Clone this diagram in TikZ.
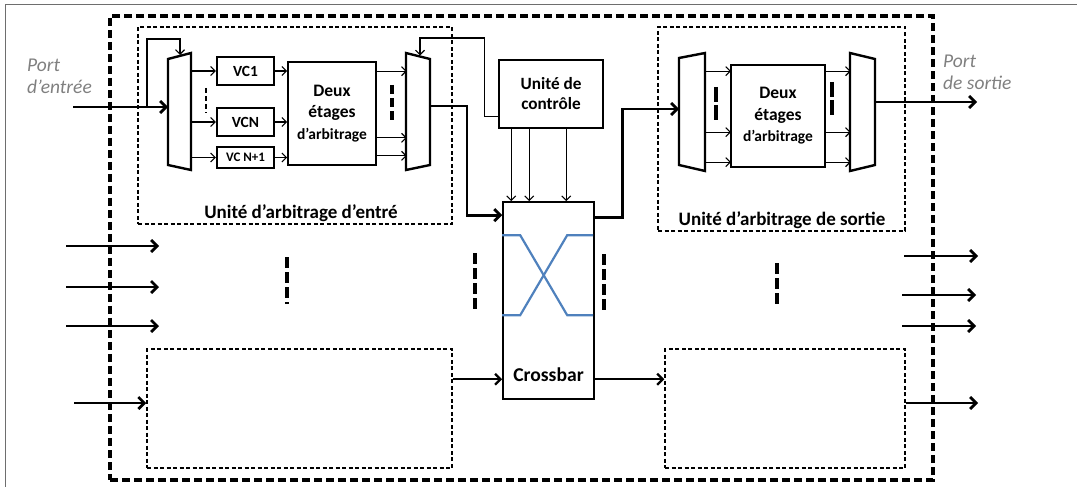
\documentclass[tikz,border=0pt]{standalone}
\usepackage{fontspec}
\setmainfont{Carlito}
\usetikzlibrary{arrows.meta,calc}
\definecolor{portgray}{RGB}{128,128,128}
\definecolor{xblue}{RGB}{79,129,189}
\definecolor{framegray}{RGB}{110,110,110}
\begin{document}
\begin{tikzpicture}[x=1pt,y=-1pt,
  bx/.style={draw, line width=1.6pt, inner sep=0pt, align=center},
  vcb/.style={draw, line width=2.2pt, inner sep=0pt, font=\bfseries\fontsize{15.5}{17}\selectfont},
  unitbox/.style={draw, line width=1.5pt, dash pattern=on 4pt off 2.5pt, inner sep=0pt},
  bigbox/.style={draw, line width=3.2pt, dash pattern=on 8pt off 4pt, inner sep=0pt},
  muxn/.style={inner sep=0pt, outer sep=0pt},
  muxline/.style={line width=2.4pt, line join=miter},
  thk/.style={line width=2.8pt, -{Straight Barb[length=6pt,width=12pt]}},
  med/.style={line width=2.3pt, -{Straight Barb[length=5.5pt,width=11pt]}},
  thn/.style={line width=1.1pt, -{Straight Barb[length=4.5pt,width=9pt]}},
  tick/.style={line width=3.6pt, dash pattern=on 11pt off 4pt},
  tickb/.style={line width=3.6pt, dash pattern=on 9pt off 4pt},
  tickc/.style={line width=3.6pt, dash pattern=on 15pt off 3pt},
  porttxt/.style={text=portgray, font=\itshape\fontsize{19.5}{22}\selectfont, anchor=base west, inner sep=0pt},
  ttl/.style={font=\bfseries\fontsize{19}{21}\selectfont, inner sep=0pt},
  xline/.style={draw=xblue, line width=2.2pt}
]
\useasboundingbox (0,0) rectangle (1077,487);
% outer frame
\draw[framegray, line width=1pt] (5,487) -- (5,5) -- (1077,5);

% big dashed router box
\node[bigbox, minimum width=823pt, minimum height=464pt] (router) at (521.5,248) {};

% units
\node[unitbox, minimum width=314pt, minimum height=197pt] (inunit) at (295,125.5) {};
\node[unitbox, minimum width=247pt, minimum height=204pt] (outunit) at (781.5,129) {};
\node[unitbox, minimum width=305pt, minimum height=119pt] (lowL) at (299.5,408.5) {};
\node[unitbox, minimum width=240pt, minimum height=119pt] (lowR) at (785,408.5) {};

\node[ttl] (inttl) at (301,213) {Unité d’arbitrage d’entré};
\node[ttl] (outttl) at (782,220) {Unité d’arbitrage de sortie};

% control and crossbar
\node[bx, minimum width=104pt, minimum height=68pt, font=\bfseries\fontsize{17.2}{20}\selectfont] (ctrl) at (551,94) {Unité de\\contrôle};
\node[bx, minimum width=91pt, minimum height=197pt] (xbar) at (548.5,300.5) {};
\node[ttl, font=\bfseries\fontsize{19.6}{21}\selectfont] (xbtxt) at (548.5,375) {Crossbar};

% muxes
\node[muxn, minimum width=23pt, minimum height=117pt] (m1) at (179.5,111.5) {};
\node[muxn, minimum width=24pt, minimum height=117pt] (m2) at (418,111.5) {};
\node[muxn, minimum width=26pt, minimum height=118pt] (m3) at (692,112) {};
\node[muxn, minimum width=25pt, minimum height=118pt] (m4) at (862.5,112) {};
\draw[muxline] ($(m1.north west)+(0,6)$) -- (m1.north east) -- (m1.south east) -- ($(m1.south west)+(0,-5)$) -- cycle;
\draw[muxline] (m2.north west) -- ($(m2.north east)+(0,6)$) -- ($(m2.south east)+(0,-5)$) -- (m2.south west) -- cycle;
\draw[muxline] ($(m3.north west)+(0,5)$) -- (m3.north east) -- (m3.south east) -- ($(m3.south west)+(0,-6)$) -- cycle;
\draw[muxline] (m4.north west) -- ($(m4.north east)+(0,6)$) -- ($(m4.south east)+(0,-6)$) -- (m4.south west) -- cycle;

% VC buffers
\node[vcb, minimum width=57pt, minimum height=28pt] (vc1) at (245.5,71) {VC1};
\node[vcb, minimum width=57pt, minimum height=28pt] (vcn) at (245.5,122) {VCN};
\node[vcb, minimum width=57pt, minimum height=21pt, font=\bfseries\fontsize{13}{15}\selectfont] (vcn1) at (245.5,157.5) {VC N+1};

% arbitration stages
\node[bx, minimum width=88pt, minimum height=103pt, font=\bfseries\fontsize{17.5}{21.5}\selectfont] (d1) at (332,113.5)
  {Deux\\étages\\{\fontsize{15.5}{20}\selectfont d’arbitrage}};
\node[bx, minimum width=94pt, minimum height=102pt, font=\bfseries\fontsize{17.5}{21.5}\selectfont] (d2) at (778,116)
  {Deux\\étages\\{\fontsize{15.5}{20}\selectfont d’arbitrage}};

% port labels
\node[porttxt] (pe1) at (27,72) {Port};
\node[porttxt] (pe2) at (27,94) {d’entrée};
\node[porttxt] (ps1) at (943,67) {Port};
\node[porttxt] (ps2) at (943,89) {de sortie};

% input port
\coordinate (pin) at (73,107);
\coordinate (fb1) at (147,39);
\draw[thk] (pin) -- (pin -| m1.west);
\draw[thn] (pin -| fb1) -- (fb1) -| ($(m1.north)+(0.5,2)$);

% mux1 -> VCs
\draw[thn] (m1.east |- vc1.west) -- (vc1.west);
\draw[thn] (m1.east |- vcn.west) -- (vcn.west);
\draw[thn] (m1.east |- vcn1.west) -- (vcn1.west);
\draw[line width=1.6pt, dash pattern=on 5pt off 3pt] (206,88) -- (206,113);

% VCs -> arbitration
\draw[thn] (vc1.east) -- (vc1.east -| d1.west);
\draw[thn] (vcn.east) -- (vcn.east -| d1.west);
\draw[thn] (vcn1.east) -- (vcn1.east -| d1.west);

% arbitration -> mux2
\draw[thn] ($(d1.north east)+(0,10)$) -- ++(30,0);
\draw[thn] ($(d1.south east)+(0,-28)$) -- ++(30,0);
\draw[thn] ($(d1.south east)+(0,-10)$) -- ++(30,0);
\draw[tickb] (392,85) -- (392,120);

% mux2 -> crossbar
\draw[thk] ($(m2.east)+(0,-5.5)$) -- ++(37,0) |- ($(xbar.north west)+(0,14)$);

% control feedback to mux2
\draw[thn] ($(ctrl.south west)+(0,-12)$) -- ++(-14,0) |- ($(m2.north)+(2,-15)$) -- ($(m2.north)+(2,2.5)$);

% control -> crossbar
\foreach \d/\n in {13/a,31/b,68/c}{
  \draw[thn] ($(ctrl.south west)+(\d,0)$) coordinate (ct\n) -- (ct\n |- xbar.north);
}

% crossbar X
\begin{scope}[shift={(xbar.north west)}]
\draw[xline] (0,34) -- (18,34) -- (65,114) -- (91,114);
\draw[xline] (0,114) -- (18,114) -- (65,34) -- (91,34);
\end{scope}

% crossbar -> output unit
\draw[thk] ($(xbar.north east)+(0,16)$) -- ++(28,0) |- ($(m3.west)+(0,-3)$);

% mux3 -> arbitration 2
\draw[thn] ($(m3.east |- d2.north)+(0,7)$) -- ++(26,0);
\draw[thn] ($(m3.east |- d2.north)+(0,68)$) -- ++(26,0);
\draw[thn] ($(m3.east |- d2.north)+(0,98)$) -- ++(26,0);
\draw[tickc] (716,87) -- (716,120);

% arbitration 2 -> mux4
\draw[thn] ($(d2.north east)+(0,7)$) -- ++(25,0);
\draw[thn] ($(d2.north east)+(0,68)$) -- ++(25,0);
\draw[thn] ($(d2.north east)+(0,98)$) -- ++(25,0);
\draw[tickc] (832,82) -- (832,117);

% output port
\coordinate (pout) at (977,102);
\draw[thk] (m4.east |- pout) -- (pout);

% other input ports
\coordinate (la1) at (66,246);
\coordinate (la2) at (66,287);
\coordinate (la3) at (66,326);
\coordinate (la4) at (74,403);
\draw[thk] (la1) -- ++(93,0);
\draw[thk] (la2) -- ++(93,0);
\draw[thk] (la3) -- ++(93,0);
\draw[thk] (la4) -- (la4 -| lowL.west);

% lower units <-> crossbar
\coordinate (lx) at ($(lowL.north east)+(0,31)$);
\draw[med] (lx) -- (lx -| xbar.west);
\draw[med] (lx -| xbar.east) -- (lx -| lowR.west);

% other output ports
\coordinate (ra1) at (904,256);
\coordinate (ra2) at (902,295);
\coordinate (ra3) at (902,326);
\coordinate (ra4) at (978,403);
\draw[thk] (ra1) -- ++(74,0);
\draw[thk] (ra2) -- ++(74,0);
\draw[thk] (ra3) -- ++(74,0);
\draw[thk] (ra4 -| lowR.east) -- (ra4);

% ellipsis ticks
\draw[tick] (287,257) -- (287,304);
\draw[tick] (475,253) -- (475,311);
\draw[tick] (604,254) -- (604,312);
\draw[tick] (777,263) -- (777,307);
\end{tikzpicture}
\end{document}
